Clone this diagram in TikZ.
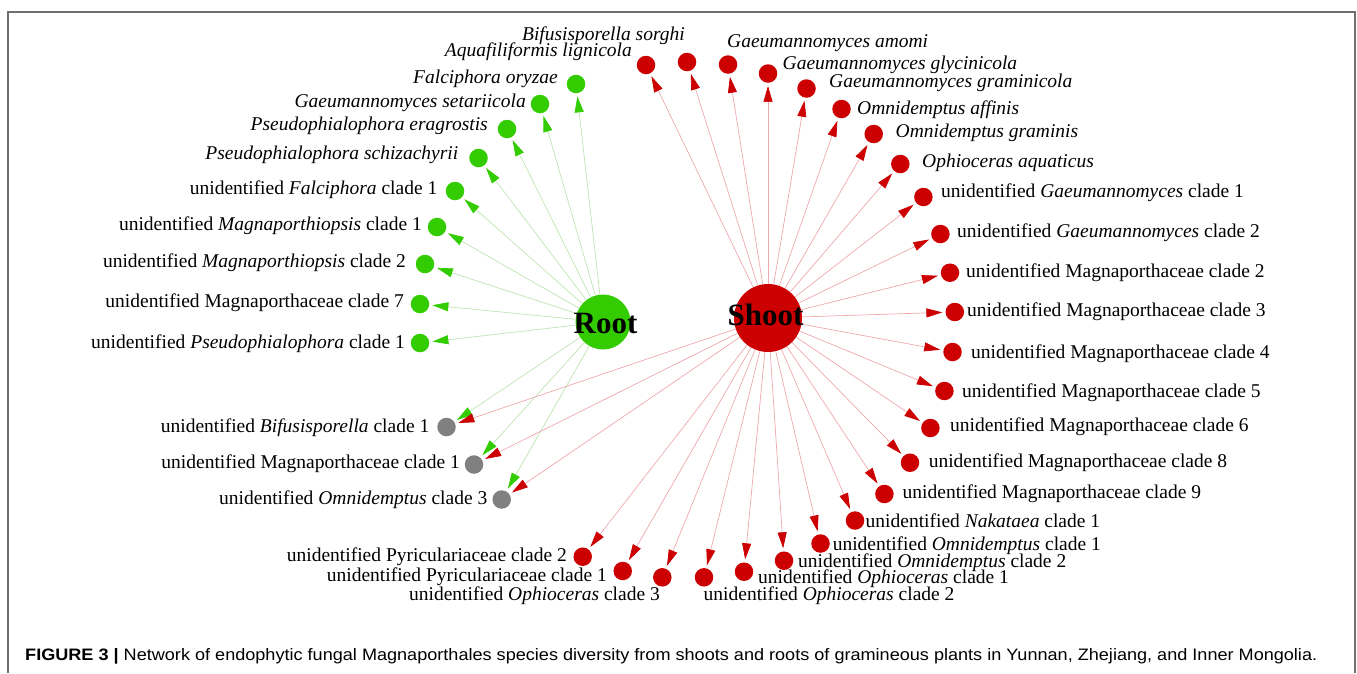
\documentclass[tikz,border=0pt]{standalone}
\usepackage{graphicx}
\usepackage{fontspec}
\setmainfont{Liberation Serif}
\newfontfamily\capfont{Liberation Sans}
\usetikzlibrary{arrows.meta,backgrounds}
\definecolor{cgnode}{RGB}{51,204,0}
\definecolor{crnode}{RGB}{204,0,0}
\definecolor{cknode}{RGB}{128,128,128}
\definecolor{cgedge}{RGB}{190,228,178}
\definecolor{credge}{RGB}{238,168,172}
\definecolor{cframe}{RGB}{110,110,110}
\begin{document}
\begin{tikzpicture}[x=1pt,y=-1pt,
  leaf/.style={circle,inner sep=0pt,minimum size=18.5pt},
  gleaf/.style={leaf,fill=cgnode},
  rleaf/.style={leaf,fill=crnode},
  kleaf/.style={leaf,fill=cknode},
  hub/.style={circle,inner sep=0pt},
  hublbl/.style={inner sep=0pt,font=\bfseries\fontsize{31}{31}\selectfont},
  lbl/.style={inner sep=0pt,font=\fontsize{19.5}{20}\selectfont},
  lblL/.style={lbl,anchor=mid east},
  lblR/.style={lbl,anchor=mid west},
  ledge/.style={line width=0.7pt,shorten >=3pt},
  gline/.style={ledge,draw=cgedge,-{Triangle[length=16pt,width=9pt,color=cgnode]}},
  rline/.style={ledge,draw=credge,-{Triangle[length=16pt,width=9pt,color=crnode]}},
]
\useasboundingbox (0,0) rectangle (1357,673);
\draw[cframe,line width=1.5pt] (8,673) -- (8,12) -- (1355,12) -- (1355,673);

% hubs
\node[hub,fill=cgnode,minimum size=55pt] (root) at (603,322) {};
\node[hub,fill=crnode,minimum size=68pt] (shoot) at (768,318) {};
\node[hublbl] (rootlbl) at (605.5,323.5) {Root};
\node[hublbl] (shootlbl) at (765.5,315) {Shoot};

% green leaves
\node[gleaf] (g1) at (576,84) {};
\node[lblL] (tg1) at (558,81.5) {\textit{Falciphora oryzae}};
\node[gleaf] (g2) at (540,104) {};
\node[lblL] (tg2) at (526,105.5) {\textit{Gaeumannomyces setariicola}};
\node[gleaf] (g3) at (507,129) {};
\node[lblL] (tg3) at (488,128.5) {\textit{Pseudophialophora eragrostis}};
\node[gleaf] (g4) at (478.5,158) {};
\node[lblL] (tg4) at (458.5,157.5) {\textit{Pseudophialophora schizachyrii}};
\node[gleaf] (g5) at (455,191) {};
\node[lblL] (tg5) at (437.5,192.5) {unidentified \textit{Falciphora} clade 1};
\node[gleaf] (g6) at (437,227) {};
\node[lblL] (tg6) at (422,228.5) {unidentified \textit{Magnaporthiopsis} clade 1};
\node[gleaf] (g7) at (425,264) {};
\node[lblL] (tg7) at (406,265.5) {unidentified \textit{Magnaporthiopsis} clade 2};
\node[gleaf] (g8) at (420,304) {};
\node[lblL] (tg8) at (404,305.5) {unidentified Magnaporthaceae clade 7};
\node[gleaf] (g9) at (420,343) {};
\node[lblL] (tg9) at (405,346) {unidentified \textit{Pseudophialophora} clade 1};

% gray leaves
\node[kleaf] (k1) at (446.5,427) {};
\node[lblL] (tk1) at (429.5,430.5) {unidentified \textit{Bifusisporella} clade 1};
\node[kleaf] (k2) at (474,464.5) {};
\node[lblL] (tk2) at (460,466.5) {unidentified Magnaporthaceae clade 1};
\node[kleaf] (k3) at (501.7,499.5) {};
\node[lblL] (tk3) at (487.5,502) {unidentified \textit{Omnidemptus} clade 3};

% red leaves
\node[rleaf] (r1) at (646,65) {};
\node[lblL] (tr1) at (632,54.5) {\textit{Aquafiliformis lignicola}};
\node[rleaf] (r2) at (687,62) {};
\node[lblL] (tr2) at (685,38.5) {\textit{Bifusisporella sorghi}};
\node[rleaf] (r3) at (728,64.5) {};
\node[lblR] (tr3) at (727,45) {\textit{Gaeumannomyces amomi}};
\node[rleaf] (r4) at (768,73.5) {};
\node[lblR] (tr4) at (782.5,67) {\textit{Gaeumannomyces glycinicola}};
\node[rleaf] (r5) at (806.5,88.5) {};
\node[lblR] (tr5) at (829,85.5) {\textit{Gaeumannomyces graminicola}};
\node[rleaf] (r6) at (841.5,109) {};
\node[lblR] (tr6) at (857,112) {\textit{Omnidemptus affinis}};
\node[rleaf] (r7) at (873.7,134) {};
\node[lblR] (tr7) at (895.5,135.5) {\textit{Omnidemptus graminis}};
\node[rleaf] (r8) at (900.3,164) {};
\node[lblR] (tr8) at (922,165.5) {\textit{Ophioceras aquaticus}};
\node[rleaf] (r9) at (923.4,197) {};
\node[lblR] (tr9) at (941,195.5) {unidentified \textit{Gaeumannomyces} clade 1};
\node[rleaf] (r10) at (940.4,234) {};
\node[lblR] (tr10) at (957,235.5) {unidentified \textit{Gaeumannomyces} clade 2};
\node[rleaf] (r11) at (950,272.7) {};
\node[lblR] (tr11) at (966,275) {unidentified Magnaporthaceae clade 2};
\node[rleaf] (r12) at (954.8,312) {};
\node[lblR] (tr12) at (967,314) {unidentified Magnaporthaceae clade 3};
\node[rleaf] (r13) at (952.5,352) {};
\node[lblR] (tr13) at (971,356) {unidentified Magnaporthaceae clade 4};
\node[rleaf] (r14) at (944.4,391) {};
\node[lblR] (tr14) at (962,395.5) {unidentified Magnaporthaceae clade 5};
\node[rleaf] (r15) at (930.4,428) {};
\node[lblR] (tr15) at (950,429.5) {unidentified Magnaporthaceae clade 6};
\node[rleaf] (r16) at (910,462.7) {};
\node[lblR] (tr16) at (928.6,465) {unidentified Magnaporthaceae clade 8};
\node[rleaf] (r17) at (884.4,494) {};
\node[lblR] (tr17) at (902.5,496) {unidentified Magnaporthaceae clade 9};
\node[rleaf] (r18) at (855,520.5) {};
\node[lblR] (tr18) at (865.5,525) {unidentified \textit{Nakataea} clade 1};
\node[rleaf] (r19) at (820.5,543.5) {};
\node[lblR] (tr19) at (832.6,548) {unidentified \textit{Omnidemptus} clade 1};
\node[rleaf] (r20) at (784,560.7) {};
\node[lblR] (tr20) at (798,565) {unidentified \textit{Omnidemptus} clade 2};
\node[rleaf] (r21) at (744,571.7) {};
\node[lblR] (tr21) at (758,581.5) {unidentified \textit{Ophioceras} clade 1};
\node[rleaf] (r22) at (704,577.3) {};
\node[lblR] (tr22) at (703.5,598) {unidentified \textit{Ophioceras} clade 2};
\node[rleaf] (r23) at (662.3,577.3) {};
\node[lblL] (tr23) at (660,598) {unidentified \textit{Ophioceras} clade 3};
\node[rleaf] (r24) at (622.7,571) {};
\node[lblL] (tr24) at (607,579) {unidentified Pyriculariaceae clade 1};
\node[rleaf] (r25) at (582.7,556.7) {};
\node[lblL] (tr25) at (567,559.5) {unidentified Pyriculariaceae clade 2};

% connectors
\begin{scope}[on background layer]
\foreach \i in {1,...,9} \draw[gline] (root) -- (g\i);
\foreach \i in {1,...,3} \draw[gline] (root) -- (k\i);
\foreach \i in {1,...,25} \draw[rline] (shoot) -- (r\i);
\foreach \i in {1,...,3} \draw[rline] (shoot) -- (k\i);
\end{scope}

% caption
\node[inner sep=0pt,anchor=base west] (cap) at (25,660)
  {\resizebox{1292pt}{12pt}{\capfont\fontsize{18}{18}\selectfont\textbf{FIGURE 3 |} Network of endophytic fungal Magnaporthales species diversity from shoots and roots of gramineous plants in Yunnan, Zhejiang, and Inner Mongolia.}};
\end{tikzpicture}
\end{document}
